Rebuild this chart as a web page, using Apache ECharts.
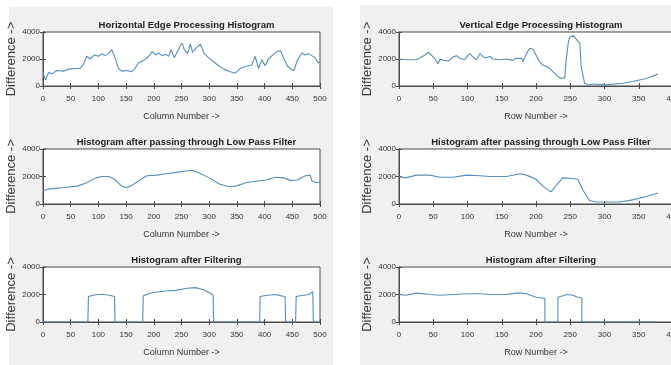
<!DOCTYPE html>
<html>
<head>
<meta charset="utf-8">
<script src="https://cdn.jsdelivr.net/npm/echarts@6/dist/echarts.min.js"></script>
<style>
  html, body { margin: 0; padding: 0; background: #ffffff; }
  #chart { width: 671px; height: 365px; }
</style>
</head>
<body>
<div id="chart"></div>
<script>
// ---- Horizontal edge processing (columns 0..500) ----
const horizCols = [0, 2, 5, 10, 16, 25, 37, 46, 58, 67, 73, 79, 85, 93, 100, 106, 112, 118, 124, 130,
  136, 142, 151, 160, 166, 172, 182, 191, 197, 203, 209, 215, 221, 227, 231, 237, 243, 251, 255, 261,
  266, 270, 276, 284, 291, 299, 308, 317, 326, 338, 347, 356, 365, 377, 383, 389, 395, 401, 407, 415,
  422, 429, 435, 441, 447, 453, 459, 467, 473, 479, 485, 491, 497, 500];
const horizRaw = [1100, 700, 450, 1000, 900, 1150, 1100, 1250, 1300, 1300, 1600, 2200, 2000, 2300, 2200, 2400, 2250, 2400, 2700, 2100,
  1300, 1100, 1150, 1050, 1300, 1700, 1900, 2200, 2550, 2300, 2450, 2250, 2350, 2200, 2700, 2100, 2600, 3200, 2700, 2400,
  3100, 2500, 2800, 3100, 2400, 2100, 1800, 1500, 1250, 1050, 950, 1300, 1450, 1550, 2200, 1300, 1950, 1500, 2000, 2300,
  2550, 2600, 2000, 1500, 1250, 1150, 1900, 2450, 2300, 2400, 2250, 2100, 1700, 1800];

const horizLpCols = [0, 2, 4, 12, 38, 62, 79, 95, 107, 118, 129, 142, 150, 158, 170, 187, 205, 222, 240, 258,
  270, 282, 300, 318, 336, 348, 366, 384, 402, 420, 435, 447, 459, 468, 474, 482, 486, 493, 500];
const horizLp = [950, 900, 1020, 1100, 1200, 1300, 1550, 1900, 2000, 2000, 1800, 1300, 1200, 1300, 1600, 2050, 2100, 2200, 2300, 2400,
  2450, 2250, 1900, 1450, 1250, 1300, 1550, 1650, 1750, 1950, 1900, 1700, 1750, 1950, 2050, 2100, 1650, 1550, 1600];

const horizFiltCols = [0, 81, 82, 90, 100, 110, 120, 129, 130, 180, 181, 190, 200, 220, 240, 260, 275, 290, 300, 307,
  308, 391, 392, 405, 420, 430, 437, 438, 456, 457, 470, 480, 487, 488, 500];
const horizFilt = [0, 0, 1850, 1950, 2000, 2000, 1950, 1850, 0, 0, 1900, 2050, 2150, 2250, 2300, 2450, 2500, 2350, 2150, 1950,
  0, 0, 1850, 1950, 2000, 1900, 1850, 0, 0, 1850, 1950, 2000, 2200, 0, 0];

// ---- Vertical edge processing (rows 0..400) ----
const vertRows = [0, 11, 26, 38, 43, 48, 52, 57, 60, 65, 72, 79, 84, 89, 96, 103, 108, 113, 118, 123,
  128, 133, 137, 147, 157, 166, 171, 179, 181, 186, 191, 196, 200, 205, 210, 215, 220, 225, 232, 237,
  242, 244, 247, 249, 254, 259, 264, 266, 271, 276, 283, 302, 327, 341, 361, 378];
const vertRaw = [2000, 1950, 1950, 2300, 2500, 2250, 2050, 1650, 2000, 1900, 1850, 2150, 2250, 2050, 1950, 2400, 2150, 1950, 2400, 2150,
  2100, 2200, 2000, 1950, 2000, 1900, 2050, 2050, 1800, 2400, 2800, 2700, 2300, 1800, 1550, 1450, 1300, 1050, 700, 550,
  600, 1900, 3150, 3600, 3750, 3450, 3150, 1400, 200, 80, 150, 80, 200, 330, 560, 880];

const vertLpRows = [0, 9, 26, 45, 60, 79, 99, 118, 133, 157, 171, 179, 186, 200, 210, 222, 230, 239, 254, 261,
  268, 278, 288, 302, 322, 341, 361, 378];
const vertLp = [2000, 1900, 2100, 2100, 1950, 1950, 2100, 2050, 2000, 2000, 2150, 2200, 2100, 1800, 1300, 880, 1380, 1900, 1850, 1800,
  1050, 250, 150, 150, 150, 300, 550, 800];

const vertFiltRows = [0, 10, 26, 45, 60, 79, 99, 118, 133, 157, 171, 179, 186, 200, 209, 213, 213, 232, 232, 236,
  245, 254, 261, 267, 267, 378];
const vertFilt = [2000, 1950, 2100, 2000, 1950, 2000, 2050, 2050, 2000, 2000, 2100, 2100, 2050, 1800, 1750, 1700, 0, 0, 1800, 1850,
  2000, 1950, 1800, 1750, 0, 0];

// ---- Axes ticks / labels ----
const colTicks = { min: 0, max: 500, step: 50 };
const rowTicks = { min: 0, max: 400, step: 50 };
const diffTicks = { min: 0, max: 4000, step: 2000 };

const titles = [
  ['Horizontal Edge Processing Histogram', 'Vertical Edge Processing Histogram'],
  ['Histogram after passing through Low Pass Filter', 'Histogram after passing through Low Pass Filter'],
  ['Histogram after Filtering', 'Histogram after Filtering']
];
const xNames = ['Column Number ->', 'Row Number ->'];
const yName = 'Difference ->';

const panels = [
  [[horizCols, horizRaw], [vertRows, vertRaw]],
  [[horizLpCols, horizLp], [vertLpRows, vertLp]],
  [[horizFiltCols, horizFilt], [vertFiltRows, vertFilt]]
];

// ---- Layout ----
const FONT = '"Liberation Sans", Arial, sans-serif';
const AXIS_COLOR = '#4a4a4a';
const LINE_COLOR = '#5a8db3';
const colLeft = [43, 399];
const colWidth = [277, 274];     // right column runs slightly past the canvas edge
const colCenter = [181.5, 536];
const rowTop = [32, 149, 267];
const rowHeight = [54, 55, 55];

const grid = [], xAxis = [], yAxis = [], series = [], title = [];

function zip(xs, ys) { return xs.map((x, i) => [x, ys[i]]); }

for (let r = 0; r < 3; r++) {
  for (let c = 0; c < 2; c++) {
    const g = grid.length;
    grid.push({
      left: colLeft[c], width: colWidth[c], top: rowTop[r], height: rowHeight[r],
      outerBoundsMode: 'none', containLabel: false,
      show: true, backgroundColor: '#ffffff', borderColor: AXIS_COLOR, borderWidth: 1
    });
    const tk = c === 0 ? colTicks : rowTicks;
    const axisBase = {
      type: 'value', gridIndex: g, min: tk.min, max: tk.max, interval: tk.step,
      axisLine: { show: true, lineStyle: { color: AXIS_COLOR, width: 1 } },
      axisTick: { show: true, inside: true, length: 3, lineStyle: { color: AXIS_COLOR } },
      splitLine: { show: false }
    };
    xAxis.push(Object.assign({}, axisBase, {
      position: 'bottom',
      axisLabel: { show: true, color: '#333', fontSize: 8, fontFamily: FONT, margin: 9,
        hideOverlap: false, formatter: v => String(v) },
      name: xNames[c], nameLocation: 'middle', nameGap: 26,
      nameTextStyle: { color: '#333', fontSize: 9, fontFamily: FONT }
    }));
    xAxis.push(Object.assign({}, axisBase, { position: 'top', axisLabel: { show: false } }));
    const yBase = {
      type: 'value', gridIndex: g, min: diffTicks.min, max: diffTicks.max, interval: diffTicks.step,
      axisLine: { show: true, lineStyle: { color: AXIS_COLOR, width: 1 } },
      axisTick: { show: true, inside: true, length: 3, lineStyle: { color: AXIS_COLOR } },
      splitLine: { show: false }
    };
    yAxis.push(Object.assign({}, yBase, {
      position: 'left',
      axisLabel: { show: true, color: '#333', fontSize: 8, fontFamily: FONT, margin: 3,
        formatter: v => String(v) },
      name: yName, nameLocation: 'middle', nameGap: 20, nameRotate: 90,
      nameTextStyle: { color: '#3a3a3a', fontSize: 13, fontFamily: FONT }
    }));
    yAxis.push(Object.assign({}, yBase, { position: 'right', axisLabel: { show: false } }));
    const [xs, ys] = panels[r][c];
    series.push({
      type: 'line', xAxisIndex: 2 * g, yAxisIndex: 2 * g,
      data: zip(xs, ys), showSymbol: false, symbol: 'none', clip: true,
      lineStyle: { color: LINE_COLOR, width: 1.1 }, animation: false
    });
    title.push({
      text: titles[r][c], left: colCenter[c], top: rowTop[r] - 17, textAlign: 'center',
      textStyle: { fontSize: 9.5, fontWeight: 'bold', color: '#222', fontFamily: FONT }
    });
  }
}

const chart = echarts.init(document.getElementById('chart'), null, { renderer: 'canvas' });
chart.setOption({
  backgroundColor: '#ffffff',
  animation: false,
  graphic: [
    { type: 'rect', z: -10, silent: true, shape: { x: 9, y: 7, width: 324, height: 358 }, style: { fill: '#f0f0f0' } },
    { type: 'rect', z: -10, silent: true, shape: { x: 360, y: 5, width: 311, height: 360 }, style: { fill: '#f0f0f0' } }
  ],
  title, grid, xAxis, yAxis, series
});
</script>
</body>
</html>
